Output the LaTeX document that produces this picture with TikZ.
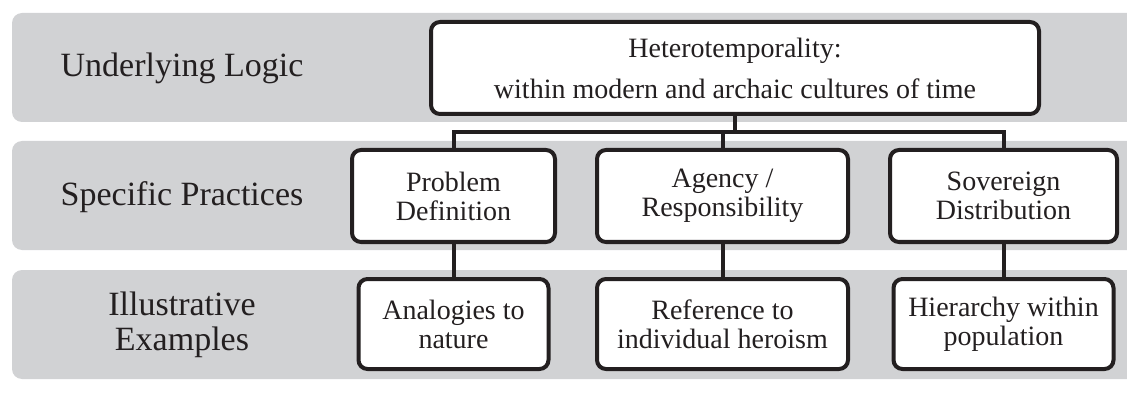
\documentclass[tikz,border=0pt]{standalone}
\usepackage{fontspec}
\setmainfont{Liberation Serif}
\usepackage{xcolor}
\usetikzlibrary{positioning}
\definecolor{bandgray}{HTML}{D1D2D4}
\definecolor{ink}{HTML}{231F20}

\begin{document}
\begin{tikzpicture}[
    x=1pt, y=-1pt,
    node distance=38pt,
    band/.style={fill=bandgray, rounded corners=10pt},
    box/.style={rectangle, rounded corners=9pt, minimum height=92pt, inner sep=0pt, align=center, draw=ink, line width=4pt, fill=white, text=ink, font=\fontsize{28}{29}\selectfont},
    lab/.style={align=center, text=ink, font=\fontsize{34}{35}\selectfont},
    line/.style={draw=ink, line width=4pt}
]

% Bands
\clip (0,0) rectangle (1127,398);
\fill[band] (12,13) rectangle (1145,122);
\fill[band] (12,141) rectangle (1145,250);
\fill[band] (12,270) rectangle (1145,379);

% Row labels
\node[lab] (logiclab) at (182,68) {Underlying Logic};
\node[lab] (practlab) at (182,197) {Specific Practices};
\node[lab] (examplab) at (182,325) {Illustrative\\Examples};

% Nodes
\node[box, minimum width=608pt] (logic) at (735,68) {Heterotemporality:\\[12pt]within modern and archaic cultures of time};
\node[box, minimum width=203pt] (problem) at (453.5,196) {Problem\\Definition};
\node[box, minimum width=251pt, right=of problem] (agency) {Agency /\\Responsibility};
\node[box, minimum width=227pt, right=of agency] (sovereign) {Sovereign\\Distribution};

\node[box, minimum width=190pt, minimum height=90pt, below=33pt of problem] (nature) {Analogies to\\nature};
\node[box, minimum width=251pt, minimum height=90pt, below=33pt of agency] (heroism) {Reference to\\individual heroism};
\node[box, minimum width=220pt, minimum height=90pt, below=33pt of sovereign] (hierarchy) {Hierarchy within\\population};

% Lines
\coordinate[below=16pt of logic.south] (bus);
\draw[line] (logic) -- (bus);
\draw[line] (problem) |- (bus) -| (sovereign);
\draw[line] (agency) -- (agency |- bus);
\draw[line] (problem) -- (nature);
\draw[line] (agency) -- (heroism);
\draw[line] (sovereign) -- (hierarchy);

\end{tikzpicture}
\end{document}
